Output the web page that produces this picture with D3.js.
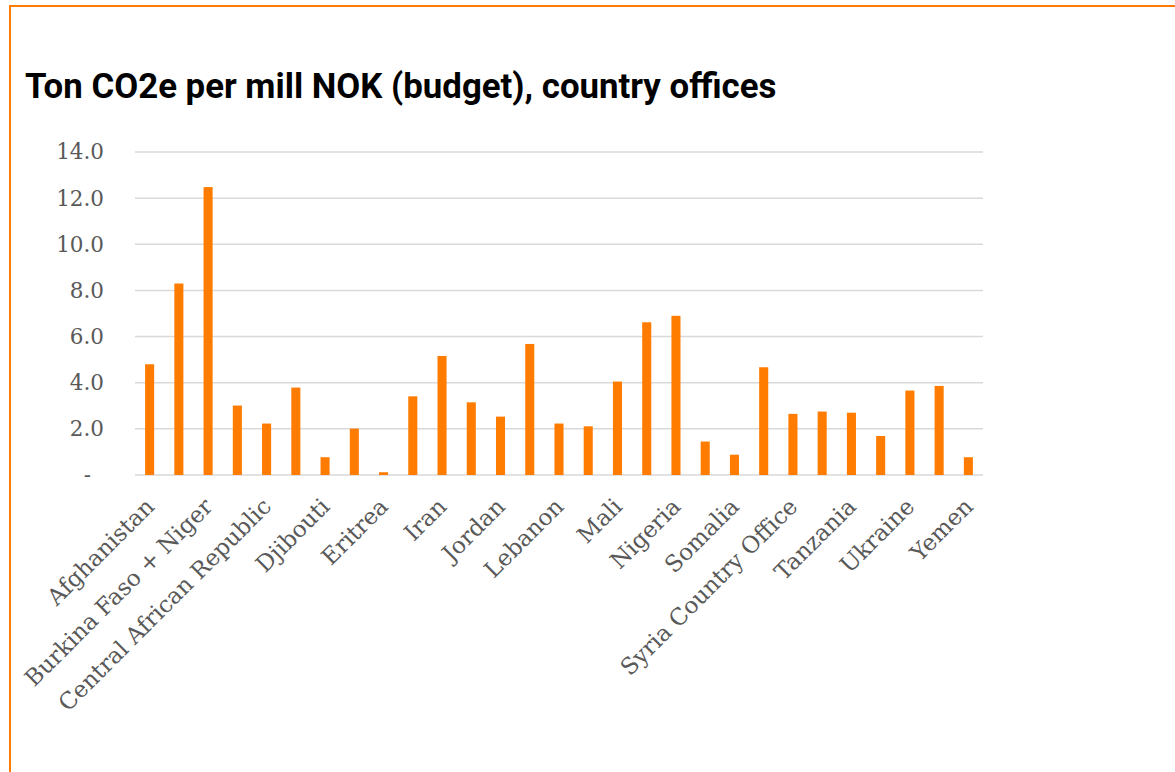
<!DOCTYPE html>
<html>
<head>
<meta charset="utf-8">
<script src="https://cdn.jsdelivr.net/npm/d3@7"></script>
<style>
  body { margin: 0; background: #fff; }
</style>
</head>
<body>
<script>
var width = 1175
var height = 772

// categories (every other one is labelled on the axis, like in Excel)
var offices = ["Afghanistan", "Bangladesh", "Burkina Faso + Niger", "Cameroon",
  "Central African Republic", "Colombia", "Djibouti", "DR Congo", "Eritrea",
  "Ethiopia", "Iran", "Iraq", "Jordan", "Kenya", "Lebanon", "Libya", "Mali",
  "Myanmar", "Nigeria", "Palestine", "Somalia", "South Sudan",
  "Syria Country Office", "Syria Response Office", "Tanzania", "Uganda",
  "Ukraine", "Venezuela", "Yemen"];
var tonPerMill = [4.80, 8.30, 12.48, 3.01, 2.23, 3.79, 0.77, 2.01, 0.12, 3.41,
  5.16, 3.15, 2.53, 5.68, 2.23, 2.11, 4.05, 6.62, 6.90, 1.45, 0.88, 4.67,
  2.65, 2.75, 2.70, 1.69, 3.66, 3.86, 0.77];
var yTicks = [0, 2, 4, 6, 8, 10, 12, 14];

var svg = d3.select("body").append("svg")
    .attr("width", width)
    .attr("height", height)

// orange frame, runs off the right and bottom edges
svg.append("rect")
    .attr("x", 10)
    .attr("y", 6)
    .attr("width", width + 20)
    .attr("height", height + 20)
    .attr("fill", "none")
    .attr("stroke", "#ff7c00")
    .attr("stroke-width", 2)

// title
svg.append("text")
    .attr("x", 25)
    .attr("y", 98)
    .attr("font-family", "Roboto")
    .attr("font-weight", "bold")
    .attr("font-size", 34.8)
    .attr("fill", "#000")
    .text("Ton CO2e per mill NOK (budget), country offices")

var x = d3.scaleBand()
    .domain(offices)
    .range([135, 983])
    .paddingInner(0.69)
    .paddingOuter(0.345)

var y = d3.scaleLinear()
    .domain([0, 14])
    .range([475, 152])

// gridlines
svg.append("g")
  .selectAll("line")
  .data(yTicks)
  .join("line")
    .attr("x1", 135)
    .attr("x2", 983)
    .attr("y1", d => y(d))
    .attr("y2", d => y(d))
    .attr("stroke", "#d9d9d9")
    .attr("stroke-width", 1.5)

// y axis labels
var yAxis = svg.append("g")
    .attr("transform", "translate(104,0)")
    .call(d3.axisLeft(y).tickValues(yTicks).tickSize(0)
      .tickFormat(d => d === 0 ? "-" : d3.format(".1f")(d)))
yAxis.select(".domain").remove()
yAxis.selectAll("text")
    .attr("x", 0)
    .attr("font-family", "DejaVu Serif")
    .attr("font-size", 21.5)
    .attr("fill", "#595959")
yAxis.selectAll(".tick").filter(d => d === 0).select("text")
    .attr("x", -13)

// bars
svg.append("g")
  .selectAll("rect")
  .data(offices)
  .join("rect")
    .attr("x", d => x(d))
    .attr("y", (d, i) => y(tonPerMill[i]))
    .attr("width", x.bandwidth())
    .attr("height", (d, i) => y(0) - y(tonPerMill[i]))
    .attr("fill", "#ff7c00")

// x axis labels, rotated
var xAxis = svg.append("g")
    .attr("transform", "translate(0,475)")
    .call(d3.axisBottom(x).tickSize(0)
      .tickValues(offices.filter((d, i) => i % 2 === 0)))
xAxis.select(".domain").remove()
xAxis.selectAll("text")
    .attr("font-family", "DejaVu Serif")
    .attr("font-size", 23)
    .attr("fill", "#595959")
    .attr("text-anchor", "end")
    .attr("x", 0)
    .attr("y", 0)
    .attr("dy", 0)
    .attr("transform", "translate(6,33) rotate(-45)")
</script>
</body>
</html>
